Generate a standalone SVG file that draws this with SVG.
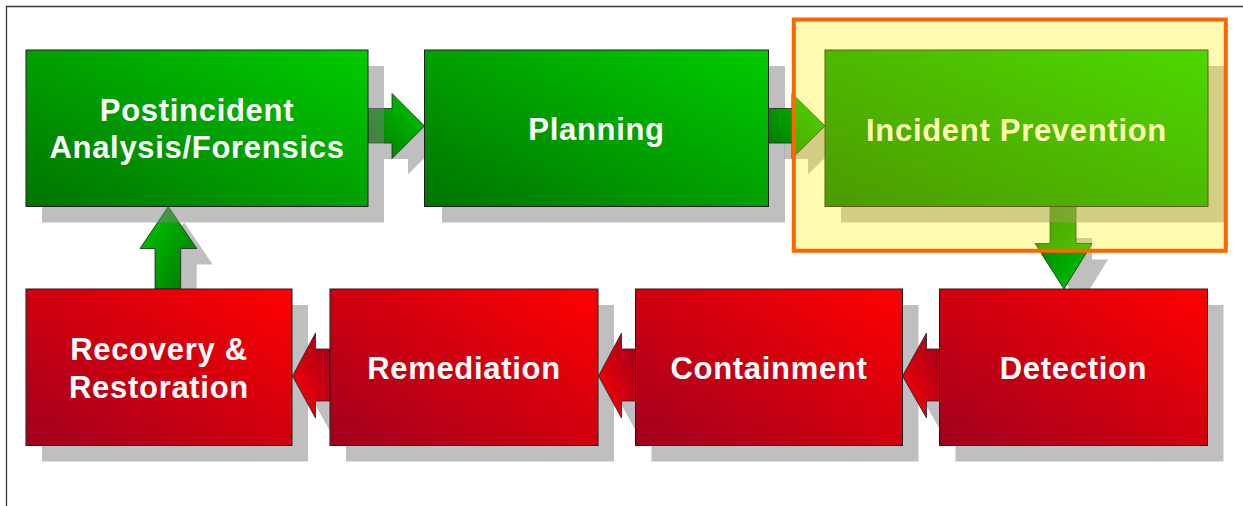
<svg xmlns="http://www.w3.org/2000/svg" width="1243" height="506" viewBox="0 0 1243 506">
<defs>
<style>
.box{stroke:#1e1e1e;stroke-width:1}
.green{fill:url(#gBox)}
.red{fill:url(#rBox)}
.sh{fill:#808080;fill-opacity:0.5}
.arr{stroke:#222;stroke-width:0.8;stroke-linejoin:miter}
.lbl{font-family:"Liberation Sans",Arial,sans-serif;font-weight:bold;font-size:31px;letter-spacing:0.7px;fill:#fff;text-anchor:middle}
</style>
<linearGradient id="gBox" x1="0" y1="1" x2="1" y2="0">
<stop offset="0" stop-color="#007400"/>
<stop offset="1" stop-color="#00CC00"/>
</linearGradient>
<linearGradient id="rBox" x1="0" y1="1" x2="1" y2="0">
<stop offset="0" stop-color="#A0001E"/>
<stop offset="1" stop-color="#FF0000"/>
</linearGradient>
<linearGradient id="gRight" x1="0" y1="1" x2="1" y2="0">
<stop offset="0" stop-color="#007400"/>
<stop offset="1" stop-color="#00CC00"/>
</linearGradient>
<linearGradient id="gUp" x1="1" y1="1" x2="0" y2="0">
<stop offset="0" stop-color="#007400"/>
<stop offset="1" stop-color="#00CC00"/>
</linearGradient>
<linearGradient id="gDown" x1="0" y1="0" x2="1" y2="1">
<stop offset="0" stop-color="#007400"/>
<stop offset="1" stop-color="#00CC00"/>
</linearGradient>
<linearGradient id="rLeft" x1="1" y1="0" x2="0" y2="1">
<stop offset="0" stop-color="#A0001E"/>
<stop offset="1" stop-color="#FF0000"/>
</linearGradient>
</defs>
<rect x="0" y="0" width="1243" height="506" fill="#fff"/>
<path d="M6.5 506 V6.5 H1243" fill="none" stroke="#3a3a3a" stroke-width="1.3"/>

<g id="shadows">
<rect class="sh" x="442" y="66" width="343" height="156.5"/>
<rect class="sh" x="42" y="305" width="266" height="156.5"/>
<rect class="sh" x="346" y="305" width="268" height="156.5"/>
<rect class="sh" x="651.5" y="305" width="267" height="156.5"/>
<rect class="sh" x="955.5" y="305" width="268" height="156.5"/>
</g>

<g id="connectors">
<g id="arrow-post-plan">
<polygon class="sh" transform="translate(16,16)" points="368,108.5 392,108.5 392,93.5 424.5,126 392,158.5 392,143 368,143"/>
<polygon class="arr" fill="url(#gRight)" points="368,108.5 392,108.5 392,93.5 424.5,126 392,158.5 392,143 368,143"/>
</g>
<g id="arrow-plan-prev">
<polygon class="sh" transform="translate(16,16)" points="768.5,108.5 792,108.5 792,93.5 825,126 792,158.5 792,143 768.5,143"/>
<polygon class="arr" fill="url(#gRight)" points="768.5,108.5 792,108.5 792,93.5 825,126 792,158.5 792,143 768.5,143"/>
</g>
<g id="arrow-prev-det">
<polygon class="sh" transform="translate(16,16)" points="1050,222 1076,222 1076,243.5 1092,243.5 1064,289 1035,243.5 1050,243.5"/>
<polygon class="arr" fill="url(#gDown)" points="1050,206.5 1076,206.5 1076,243.5 1092,243.5 1064,289 1035,243.5 1050,243.5"/>
</g>
<g id="arrow-det-con">
<polygon class="sh" transform="translate(16,16)" points="939.5,349 926.5,349 926.5,333 902.5,376 926.5,418 926.5,401 939.5,401"/>
<polygon class="arr" fill="url(#rLeft)" points="939.5,349 926.5,349 926.5,333 902.5,376 926.5,418 926.5,401 939.5,401"/>
</g>
<g id="arrow-con-rem">
<polygon class="sh" transform="translate(16,16)" points="635.5,349 621.5,349 621.5,333 598.5,376 621.5,418 621.5,401 635.5,401"/>
<polygon class="arr" fill="url(#rLeft)" points="635.5,349 621.5,349 621.5,333 598.5,376 621.5,418 621.5,401 635.5,401"/>
</g>
<g id="arrow-rem-rec">
<polygon class="sh" transform="translate(16,16)" points="330,349 315.5,349 315.5,333 292.5,376 315.5,418 315.5,401 330,401"/>
<polygon class="arr" fill="url(#rLeft)" points="330,349 315.5,349 315.5,333 292.5,376 315.5,418 315.5,401 330,401"/>
</g>
<g id="arrow-rec-post">
<polygon class="sh" transform="translate(16,16)" points="155,273 155,248.5 140,248.5 168.3,206.5 196.7,248.5 180.7,248.5 180.7,273"/>
<polygon class="arr" fill="url(#gUp)" points="155,289 155,248.5 140,248.5 168.3,206.5 196.7,248.5 180.7,248.5 180.7,289"/>
</g>
</g>

<g id="nodes">
<g id="node-postincident">
<rect class="sh" x="42" y="66" width="342" height="156.5"/>
<rect class="box green" x="26" y="50" width="342" height="156.5"/>
<text class="lbl" x="197" y="120.7">Postincident</text>
<text class="lbl" x="197" y="158.3">Analysis/Forensics</text>
</g>
<g id="node-planning">
<rect class="box green" x="424.5" y="50" width="344" height="156.5"/>
<text class="lbl" x="596.5" y="140">Planning</text>
</g>
<g id="node-prevention">
<rect class="sh" x="841" y="66" width="383" height="156.5"/>
<rect class="box green" x="825" y="50" width="383" height="156.5"/>
<text class="lbl" x="1016.5" y="140.5">Incident Prevention</text>
</g>
<g id="node-detection">
<rect class="box red" x="939.5" y="289" width="268" height="156.5"/>
<text class="lbl" x="1073.5" y="379.3">Detection</text>
</g>
<g id="node-containment">
<rect class="box red" x="635.5" y="289" width="267" height="156.5"/>
<text class="lbl" x="769" y="379.3">Containment</text>
</g>
<g id="node-remediation">
<rect class="box red" x="330" y="289" width="268" height="156.5"/>
<text class="lbl" x="464" y="379.3">Remediation</text>
</g>
<g id="node-recovery">
<rect class="box red" x="26" y="289" width="266" height="156.5"/>
<text class="lbl" x="159" y="360">Recovery &amp;</text>
<text class="lbl" x="159" y="397.7">Restoration</text>
</g>
</g>

<g id="highlight">
<rect x="793.8" y="19.5" width="432" height="231.3" fill="#FFF500" fill-opacity="0.3" stroke="#FF6600" stroke-width="4"/>
</g>
</svg>
